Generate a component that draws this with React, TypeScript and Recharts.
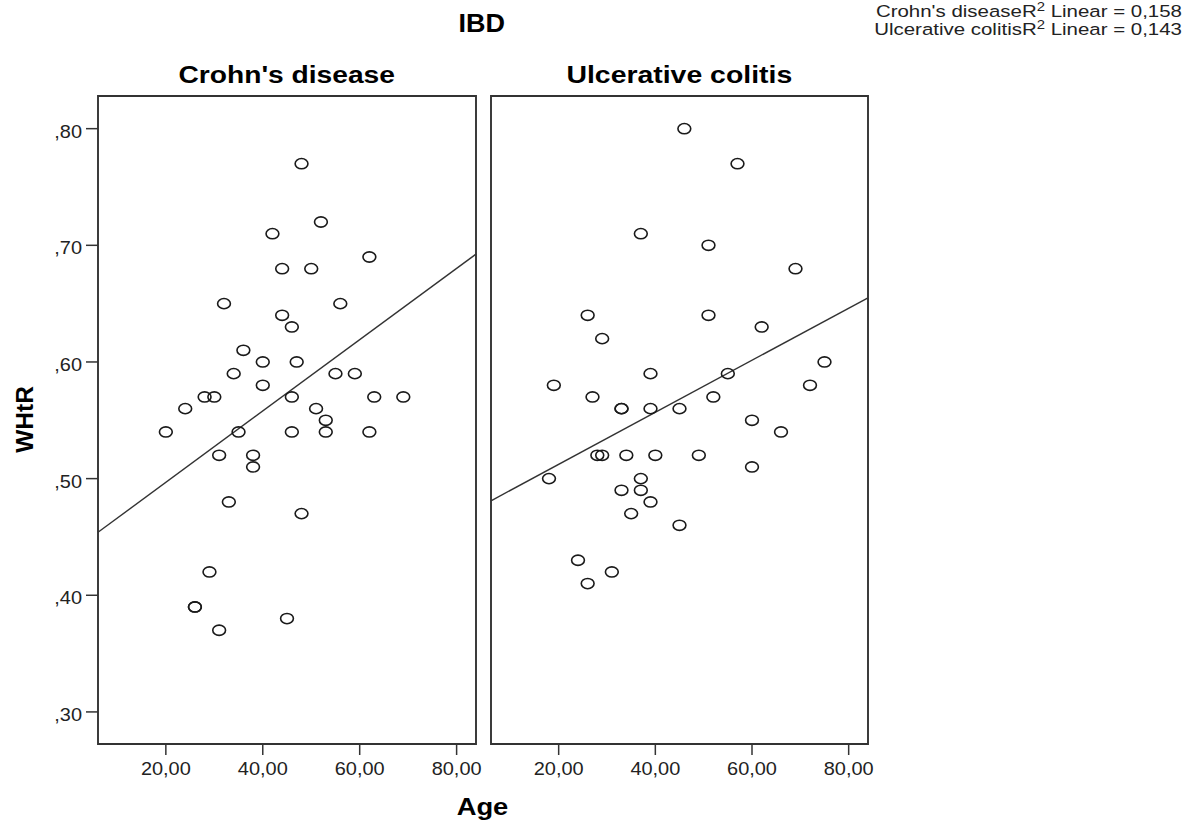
import { ScatterChart, Scatter, XAxis, YAxis, ReferenceArea, ReferenceLine } from 'recharts'

// values
const groups = ["Crohn's disease", 'Ulcerative colitis']

const crohnAge = [48, 52, 42, 44, 50, 62, 32, 56, 44, 46, 36, 40, 47, 34, 55, 59, 40, 28, 30, 46, 63, 69, 24, 51, 53, 20, 35, 46, 53, 62, 31, 38, 38, 33, 48, 29, 26, 26, 31, 45]
const crohnWhtr = [0.77, 0.72, 0.71, 0.68, 0.68, 0.69, 0.65, 0.65, 0.64, 0.63, 0.61, 0.6, 0.6, 0.59, 0.59, 0.59, 0.58, 0.57, 0.57, 0.57, 0.57, 0.57, 0.56, 0.56, 0.55, 0.54, 0.54, 0.54, 0.54, 0.54, 0.52, 0.52, 0.51, 0.48, 0.47, 0.42, 0.39, 0.39, 0.37, 0.38]

const ucAge = [46, 57, 37, 51, 69, 26, 51, 62, 29, 75, 39, 55, 19, 72, 27, 52, 33, 33, 39, 45, 60, 66, 28, 29, 34, 40, 49, 60, 18, 37, 33, 37, 39, 35, 45, 24, 31, 26]
const ucWhtr = [0.8, 0.77, 0.71, 0.7, 0.68, 0.64, 0.64, 0.63, 0.62, 0.6, 0.59, 0.59, 0.58, 0.58, 0.57, 0.57, 0.56, 0.56, 0.56, 0.56, 0.55, 0.54, 0.52, 0.52, 0.52, 0.52, 0.52, 0.51, 0.5, 0.5, 0.49, 0.49, 0.48, 0.47, 0.46, 0.43, 0.42, 0.41]

// fit line ends (age, WHtR) at the panel edges
const crohnFitAge = [6, 84]
const crohnFitWhtr = [0.454, 0.6925]
const ucFitAge = [6, 84]
const ucFitWhtr = [0.481, 0.655]
const r2Labels = ['0,158', '0,143']

const ageTicks = [20, 40, 60, 80]
const whtrTicks = [0.3, 0.4, 0.5, 0.6, 0.7, 0.8]
const ageDomain = [6, 84]
const whtrDomain = [0.2725, 0.828]

const FONT = '"Liberation Sans", Arial, sans-serif'
const INK = '#333'

const toRows = (ages: number[], vals: number[]) => ages.map((age, i) => ({ age, whtr: vals[i] }))

function Ring(props: any) {
  const { cx, cy } = props
  if (cx == null || cy == null) return null
  return <ellipse cx={cx} cy={cy} rx={6.4} ry={5.1} fill="none" stroke="#1a1a1a" strokeWidth={1.6} />
}

// SPSS output is a bit stretched sideways, so text gets a horizontal scale
function Wide({ x, y, children, sx = 1.14, anchor = 'middle', size = 17.5, weight = 400, color = '#222' }: any) {
  return (
    <text
      transform={`translate(${x},${y}) scale(${sx},1)`}
      textAnchor={anchor}
      fontFamily={FONT}
      fontSize={size}
      fontWeight={weight}
      fill={color}
    >
      {children}
    </text>
  )
}

function AgeTick(props: any) {
  const { x, y, payload } = props
  return <Wide x={x} y={y + 18}>{Number(payload.value).toFixed(2).replace('.', ',')}</Wide>
}

function WhtrTick(props: any) {
  const { x, y, payload } = props
  return (
    <Wide x={x} y={y + 9} anchor="end">
      {Number(payload.value).toFixed(2).replace('0.', ',')}
    </Wide>
  )
}

function Panel({ rows, fitAge, fitWhtr, left, width, margin, showY }: any) {
  return (
    <div style={{ position: 'absolute', left, top: 0 }}>
      <ScatterChart width={width} height={825} margin={margin}>
        <XAxis
          type="number"
          dataKey="age"
          domain={ageDomain}
          ticks={ageTicks}
          axisLine={false}
          tickSize={11}
          tickMargin={2}
          tickLine={{ stroke: INK, strokeWidth: 1.5 }}
          tick={AgeTick}
          height={60}
        />
        <YAxis
          type="number"
          dataKey="whtr"
          domain={whtrDomain}
          ticks={whtrTicks}
          hide={!showY}
          width={98}
          axisLine={false}
          tickSize={12}
          tickMargin={4}
          tickLine={{ stroke: INK, strokeWidth: 1.5 }}
          tick={WhtrTick}
        />
        <ReferenceArea
          x1={ageDomain[0]}
          x2={ageDomain[1]}
          y1={whtrDomain[0]}
          y2={whtrDomain[1]}
          fill="none"
          stroke={INK}
          strokeWidth={1.9}
          ifOverflow="visible"
        />
        <ReferenceLine
          segment={[
            { x: fitAge[0], y: fitWhtr[0] },
            { x: fitAge[1], y: fitWhtr[1] },
          ]}
          stroke={INK}
          strokeWidth={1.4}
          ifOverflow="visible"
        />
        <Scatter data={rows} shape={Ring} isAnimationActive={false} />
      </ScatterChart>
    </div>
  )
}

function LegendLine({ y, name, r2 }: any) {
  return (
    <text
      transform={`translate(1182,${y}) scale(1.24,1)`}
      textAnchor="end"
      fontFamily={FONT}
      fontSize={16.5}
      fill="#222"
    >
      {name}R
      <tspan dy={-6} fontSize={12}>2</tspan>
      <tspan dy={6}> Linear = {r2}</tspan>
    </text>
  )
}

export default function App() {
  return (
    <div style={{ position: 'absolute', left: 0, top: 0, width: 1194, height: 825, background: '#fff' }}>
      <Panel
        rows={toRows(crohnAge, crohnWhtr)}
        fitAge={crohnFitAge}
        fitWhtr={crohnFitWhtr}
        left={0}
        width={490}
        margin={{ top: 96, right: 14, bottom: 21, left: 0 }}
        showY
      />
      <Panel
        rows={toRows(ucAge, ucWhtr)}
        fitAge={ucFitAge}
        fitWhtr={ucFitWhtr}
        left={480}
        width={400}
        margin={{ top: 96, right: 12, bottom: 21, left: 11 }}
        showY={false}
      />
      <svg width={1194} height={825} style={{ position: 'absolute', left: 0, top: 0, pointerEvents: 'none' }}>
        <Wide x={481.7} y={32} size={25} weight={700} sx={1.08} color="#000">IBD</Wide>
        <Wide x={286.7} y={82.5} size={24.5} weight={700} sx={1.15} color="#000">{groups[0]}</Wide>
        <Wide x={679.3} y={83} size={24.5} weight={700} sx={1.16} color="#000">{groups[1]}</Wide>
        <text
          transform="translate(33,419.5) rotate(-90)"
          textAnchor="middle"
          fontFamily={FONT}
          fontSize={24.5}
          fontWeight={700}
          fill="#000"
        >
          WHtR
        </text>
        <Wide x={482.5} y={815} size={24} weight={700} sx={1.14} color="#000">Age</Wide>
        <LegendLine y={17.3} name={groups[0]} r2={r2Labels[0]} />
        <LegendLine y={35} name={groups[1]} r2={r2Labels[1]} />
      </svg>
    </div>
  )
}
